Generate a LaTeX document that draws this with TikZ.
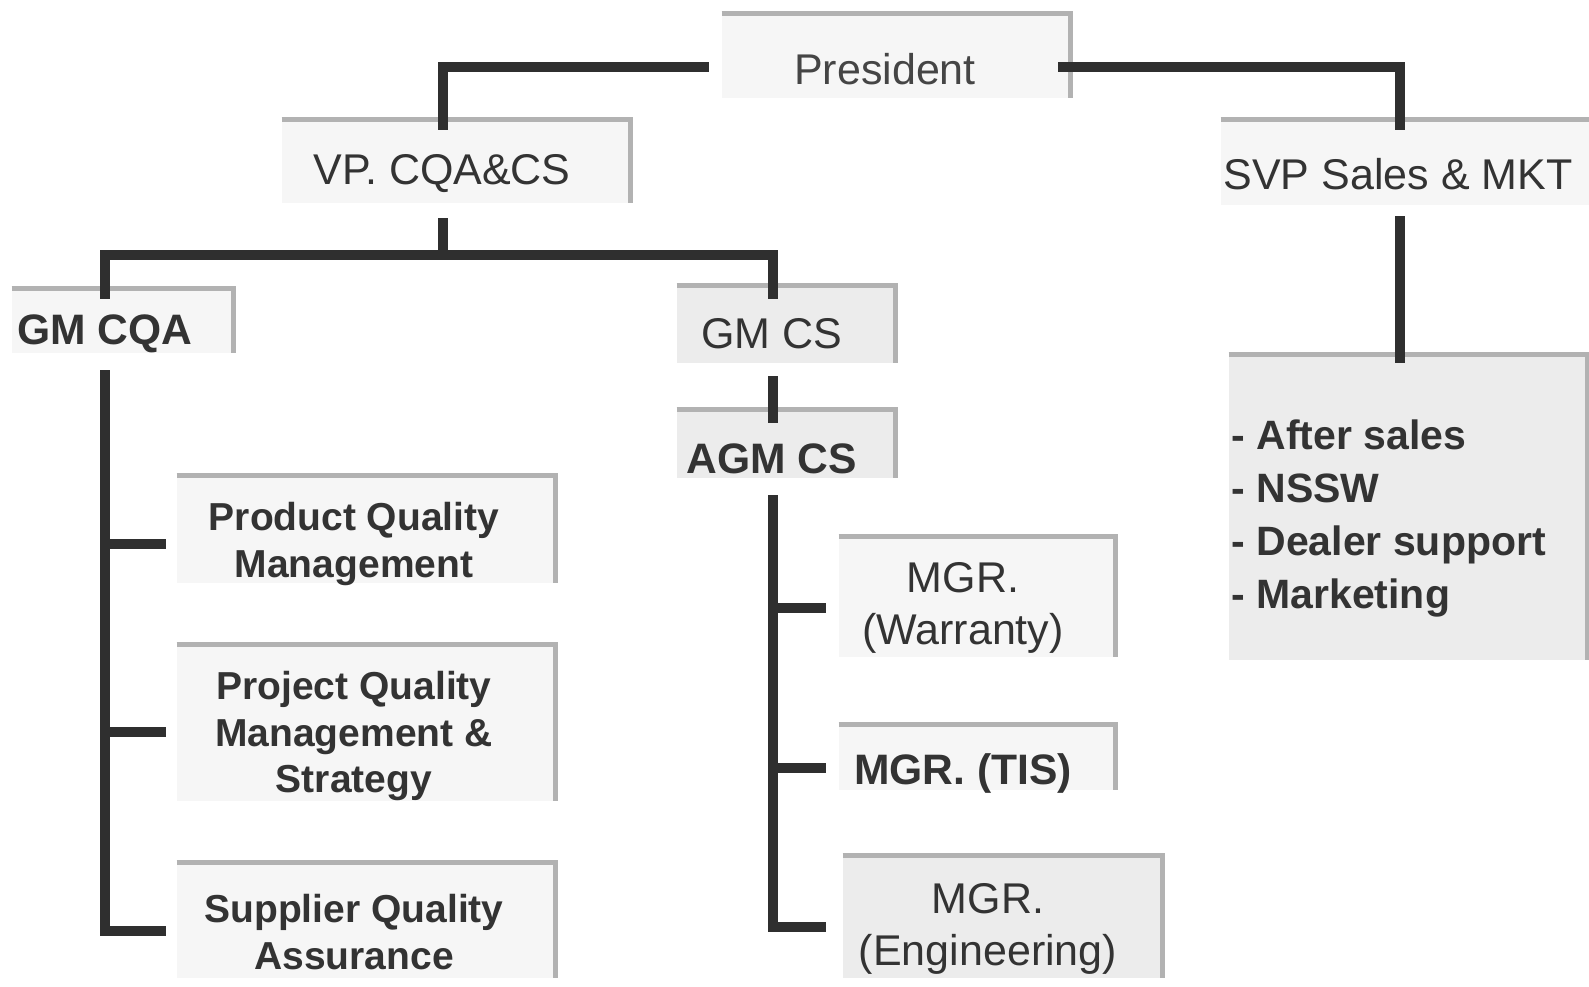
\documentclass[tikz,border=0pt]{standalone}
\usepackage{fontspec}
\setmainfont{Liberation Sans}
\usetikzlibrary{calc,fit}
\definecolor{ink}{HTML}{333333}
\definecolor{inklight}{HTML}{454545}
\definecolor{wire}{HTML}{2F2F2F}
\definecolor{rimc}{HTML}{B2B2B2}
\definecolor{fillA}{HTML}{F6F6F6}
\definecolor{fillB}{HTML}{ECECEC}
\begin{document}
\begin{tikzpicture}[x=0.5pt,y=-0.5pt,
  box/.style={rectangle, inner sep=0pt, draw=none, fill=fillA},
  boxdark/.style={box, fill=fillB},
  rim/.style={draw=rimc, line width=2.6pt},
  conn/.style={draw=wire, line width=5pt},
  lbl/.style={text=ink, align=center, inner sep=0pt},
  big/.style={font=\fontsize{21.5pt}{26pt}\selectfont},
  bigb/.style={font=\fontsize{21.3pt}{26pt}\selectfont\bfseries},
  mid/.style={font=\fontsize{19.5pt}{23.3pt}\selectfont\bfseries},
]
\clip (0,0) rectangle (1589,986);
\fill[white] (0,0) rectangle (1589,986);

% boxes
\node[box, fit={(722,14) (1070,98)}] (presbox) {};
\node[box, fit={(282,120) (630,203)}] (vpbox) {};
\node[box, fit={(1221,120) (1600,205)}] (svpbox) {};
\node[box, fit={(12,289) (233,353)}] (cqabox) {};
\node[boxdark, fit={(677,286) (895,363)}] (csbox) {};
\node[boxdark, fit={(677,410) (895,478)}] (agmbox) {};
\node[box, fit={(177,476) (555,583)}] (pqmbox) {};
\node[box, fit={(177,645) (555,801)}] (projbox) {};
\node[box, fit={(177,863) (555,978)}] (sqabox) {};
\node[box, fit={(839,537) (1115,657)}] (warbox) {};
\node[box, fit={(839,725) (1115,790)}] (tisbox) {};
\node[boxdark, fit={(843,856) (1162,978)}] (engbox) {};
\node[boxdark, fit={(1229,355) (1587,660)}] (salesbox) {};

\foreach \b in {presbox,vpbox,svpbox,cqabox,csbox,agmbox,pqmbox,projbox,sqabox,warbox,tisbox,engbox,salesbox}
  \draw[rim] (\b.north west) -- (\b.north east) -- (\b.south east);

% labels
\node[lbl, big, text=inklight] (pres) at (885,69) {President};
\node[lbl, big] (vp) at (442,174) {VP. CQA\&CS};
\node[lbl, big] (svp) at (1398,174) {SVP Sales \& MKT};
\node[lbl, bigb] (cqa) at (105,334) {GM CQA};
\node[lbl, big] (cs) at (772,334) {GM CS};
\node[lbl, bigb] (agm) at (772,459) {AGM CS};
\node[lbl, mid] (pqm) at (354,544) {Product Quality\\Management};
\node[lbl, mid] (proj) at (354,736) {Project Quality\\Management \&\\Strategy};
\node[lbl, mid] (sqa) at (354,932) {Supplier Quality\\Assurance};
\node[lbl, big] (war) at (963,608) {MGR.\\(Warranty)};
\node[lbl, bigb] (tis) at (963,773) {MGR. (TIS)};
\node[lbl, big] (eng) at (988,929) {MGR.\\(Engineering)};
\node[lbl, align=left, anchor=west, font=\fontsize{20.5pt}{26.5pt}\selectfont\bfseries] (sales) at (1231,518)
  {- After sales\\- NSSW\\- Dealer support\\- Marketing};

% connectors
\draw[conn] ($(presbox.west)+(-13,11)$) -| ($(vpbox.north west)+(161,10)$);
\draw[conn] ($(presbox.east)+(-12,11)$) -| ($(svpbox.north west)+(179,10)$);
\draw[conn] ($(svpbox.south west)+(179,11)$) -- ($(salesbox.north west)+(171,8)$);

\coordinate (vpj) at ($(vpbox.south west)+(161,52)$);
\draw[conn] ($(vpbox.south west)+(161,15)$) -- (vpj);
\draw[conn] (vpj) -| ($(cqabox.north west)+(93,10)$);
\draw[conn] (vpj) -| ($(csbox.north west)+(96,13)$);
\draw[conn] ($(csbox.south west)+(96,13)$) -- ($(agmbox.north west)+(96,13)$);

% GM CQA branch
\coordinate (cqaspine) at ($(cqabox.south west)+(93,17)$);
\coordinate (t1) at ($(pqmbox.west)+(-11,14)$);
\coordinate (t2) at ($(projbox.west)+(-11,9)$);
\coordinate (t3) at ($(sqabox.west)+(-11,10)$);
\draw[conn] (cqaspine) |- (t3);
\draw[conn] (cqaspine |- t1) -- (t1);
\draw[conn] (cqaspine |- t2) -- (t2);

% AGM CS branch
\coordinate (agmspine) at ($(agmbox.south west)+(96,17)$);
\coordinate (u1) at ($(warbox.west)+(-13,11)$);
\coordinate (u2) at ($(tisbox.west)+(-13,10)$);
\coordinate (u3) at ($(engbox.west)+(-17,10)$);
\draw[conn] (agmspine) |- (u3);
\draw[conn] (agmspine |- u1) -- (u1);
\draw[conn] (agmspine |- u2) -- (u2);
\end{tikzpicture}
\end{document}
